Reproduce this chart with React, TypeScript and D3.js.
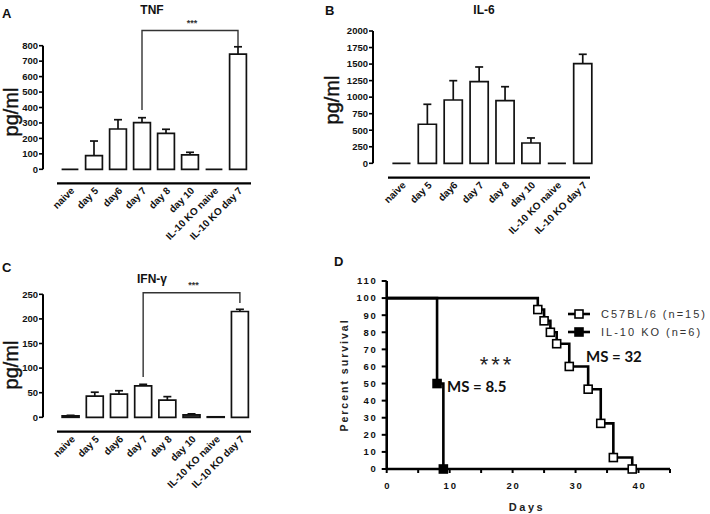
import React from "react";
import * as d3 from "d3";

const categories = ["naive", "day 5", "day6", "day 7", "day 8", "day 10", "IL-10 KO naive", "IL-10 KO day 7"];

const tnfValues = [0, 88, 261, 302, 233, 94, 0, 746];
const tnfErrors = [0, 95, 60, 32, 26, 16, 0, 47];
const tnfTicks = [0, 100, 200, 300, 400, 500, 600, 700, 800];

const il6Values = [0, 590, 957, 1234, 946, 307, 0, 1506];
const il6Errors = [0, 302, 292, 222, 212, 76, 0, 142];
const il6Ticks = [0, 250, 500, 750, 1000, 1250, 1500, 1750, 2000];

const ifnValues = [3, 43, 47, 64, 35, 5, 1, 215];
const ifnErrors = [1, 8, 7, 3, 7, 2, 0, 4.5];
const ifnTicks = [0, 50, 100, 150, 200, 250];

const c57Days = [0, 24, 25, 26, 27, 29, 32, 34, 36, 39];
const c57Surv = [100, 93.3, 86.7, 80, 73.3, 60, 46.7, 26.7, 6.7, 0];
const koDays = [0, 8, 9];
const koSurv = [100, 50, 0];
const survYTicks = [0, 10, 20, 30, 40, 50, 60, 70, 80, 90, 100, 110];
const survXTicks = [0, 10, 20, 30, 40];
const survMinorTicks = [0, 5, 10, 15, 20, 25, 30, 35, 40, 45];

const FONT = "'Liberation Sans', Arial, sans-serif";

type BarProps = {
  values: number[];
  errors: number[];
  ticks: number[];
  ymax: number;
  axisX: number;
  yZero: number;
  yMax: number;
  xRange: [number, number];
  catY: number;
  catRange: [number, number];
  ylabelX: number;
  ylabelY: number;
  bracket?: { top: number; leftBottom: number; rightBottom: number; starY: number };
  darkSmall?: boolean;
};

function BarPanel(p: BarProps) {
  const x = d3.scaleBand<string>().domain(categories).range(p.xRange).paddingInner(0.3).paddingOuter(0.15);
  const y = d3.scaleLinear().domain([0, p.ymax]).range([p.yZero, p.yMax]);
  const bw = x.bandwidth();
  const cx = (c: string) => (x(c) as number) + bw / 2;
  return (
    <g fontFamily={FONT}>
      <line x1={p.axisX} x2={p.axisX} y1={y(0)} y2={y(p.ymax)} stroke="#000" strokeWidth={2} />
      {p.ticks.map((t) => (
        <g key={t}>
          <line x1={p.axisX - 4} x2={p.axisX} y1={y(t)} y2={y(t)} stroke="#000" strokeWidth={1.6} />
          <text x={p.axisX - 5} y={y(t)} dy="0.35em" textAnchor="end" fontSize={9.5} fontWeight="bold" fill="#111">
            {t}
          </text>
        </g>
      ))}
      {categories.map((c, i) => {
        const x0 = x(c) as number;
        const yt = y(p.values[i]);
        const ye = y(p.values[i] + p.errors[i]);
        const small = p.darkSmall && p.values[i] < 6;
        return (
          <g key={c}>
            <path
              d={`M${x0},${y(0)}L${x0},${yt}L${x0 + bw},${yt}L${x0 + bw},${y(0)}Z`}
              fill={small ? "#444" : "#fff"}
              stroke="#111"
              strokeWidth={1.7}
            />
            {p.errors[i] > 0 && (
              <g stroke="#111" strokeWidth={1.7}>
                <line x1={cx(c)} x2={cx(c)} y1={yt} y2={ye} />
                <line x1={cx(c) - 4} x2={cx(c) + 4} y1={ye} y2={ye} />
              </g>
            )}
          </g>
        );
      })}
      <line x1={p.catRange[0]} x2={p.catRange[1]} y1={p.catY} y2={p.catY} stroke="#000" strokeWidth={2.2} />
      {categories.map((c) => (
        <text
          key={c}
          transform={`translate(${cx(c) + 5},${p.catY + 8}) rotate(-45)`}
          textAnchor="end"
          fontSize={10}
          fontWeight="bold"
          fill="#111"
        >
          {c}
        </text>
      ))}
      <text
        transform={`translate(${p.ylabelX},${p.ylabelY}) rotate(-90)`}
        textAnchor="middle"
        fontSize={20}
        fill="#111"
        stroke="#111"
        strokeWidth={0.4}
      >
        pg/ml
      </text>
      {p.bracket && (
        <g>
          <path
            d={`M${cx(categories[3])},${p.bracket.leftBottom}V${p.bracket.top}H${cx(categories[7])}V${p.bracket.rightBottom}`}
            fill="none"
            stroke="#333"
            strokeWidth={1.4}
          />
          <text
            x={(cx(categories[3]) + cx(categories[7])) / 2 + 2}
            y={p.bracket.starY}
            textAnchor="middle"
            fontSize={9}
            fontWeight="bold"
            fill="#333"
          >
            ***
          </text>
        </g>
      )}
    </g>
  );
}

function SurvivalPanel() {
  const x = d3.scaleLinear().domain([0, 45]).range([386.7, 670]);
  const y = d3.scaleLinear().domain([0, 110]).range([469, 281]);
  const mk = (days: number[], surv: number[]) =>
    d3
      .line<number>()
      .x((d) => x(d))
      .y((_, i) => y(surv[i]))
      .curve(d3.curveStepAfter)(days) as string;
  const sq = 8;
  return (
    <g fontFamily={FONT}>
      <path d={mk(koDays, koSurv)} fill="none" stroke="#000" strokeWidth={2.6} />
      <path d={mk(c57Days, c57Surv)} fill="none" stroke="#000" strokeWidth={2.6} />
      <line x1={x(0)} x2={x(45)} y1={y(0)} y2={y(0)} stroke="#000" strokeWidth={2.6} />
      <line x1={x(0)} x2={x(0)} y1={y(0)} y2={y(110)} stroke="#000" strokeWidth={2.6} />
      {survYTicks.map((t) => (
        <g key={t}>
          <line x1={x(0) - 5} x2={x(0)} y1={y(t)} y2={y(t)} stroke="#000" strokeWidth={2} />
          <text x={x(0) - 9} y={y(t)} dy="0.35em" textAnchor="end" fontSize={9.5} fontWeight="bold" letterSpacing={1.8} fill="#111">
            {t}
          </text>
        </g>
      ))}
      {survMinorTicks.map((t) => (
        <line key={t} x1={x(t)} x2={x(t)} y1={y(0)} y2={y(0) + 4} stroke="#000" strokeWidth={2} />
      ))}
      {survXTicks.map((t) => (
        <text key={t} x={x(t) + 1} y={489} textAnchor="middle" fontSize={9.5} fontWeight="bold" letterSpacing={1.8} fill="#111">
          {t}
        </text>
      ))}
      <text x={527} y={511} textAnchor="middle" fontSize={11} fontWeight="bold" letterSpacing={2.5} fill="#222">
        Days
      </text>
      <text
        transform={`translate(348,375) rotate(-90)`}
        textAnchor="middle"
        fontSize={10.5}
        fontWeight="bold"
        letterSpacing={2}
        fill="#222"
      >
        Percent survival
      </text>
      {c57Days.slice(1).map((d, i) => (
        <rect
          key={d}
          x={x(d) - sq / 2}
          y={y(c57Surv[i + 1]) - sq / 2}
          width={sq}
          height={sq}
          fill="#fff"
          stroke="#000"
          strokeWidth={1.6}
        />
      ))}
      {koDays.slice(1).map((d, i) => (
        <rect key={d} x={x(d) - sq / 2} y={y(koSurv[i + 1]) - sq / 2} width={sq} height={sq} fill="#000" stroke="#000" strokeWidth={1.6} />
      ))}
      <g>
        <line x1={568} x2={590} y1={314} y2={314} stroke="#000" strokeWidth={2.6} />
        <rect x={575} y={310} width={8} height={8} fill="#fff" stroke="#000" strokeWidth={1.6} />
        <text x={601} y={314} dy="0.35em" fontSize={11} letterSpacing={2} fill="#333">
          C57BL/6 (n=15)
        </text>
        <line x1={568} x2={590} y1={332} y2={332} stroke="#000" strokeWidth={2.6} />
        <rect x={575} y={328} width={8} height={8} fill="#000" stroke="#000" strokeWidth={1.6} />
        <text x={601} y={332} dy="0.35em" fontSize={11} letterSpacing={2} fill="#333">
          IL-10 KO (n=6)
        </text>
      </g>
      <text x={497} y={372} textAnchor="middle" fontSize={22} letterSpacing={3} fill="#222">
        ***
      </text>
      <text x={586} y={362} fontSize={15} fontWeight="bold" fontFamily="Lato, sans-serif" fill="#111">
        MS = 32
      </text>
      <text x={447} y={392} fontSize={15} fontWeight="bold" fontFamily="Lato, sans-serif" fill="#111">
        MS = 8.5
      </text>
    </g>
  );
}

export default function App() {
  return (
    <svg
      width={710}
      height={514}
      style={{ position: "absolute", left: 0, top: 0, background: "#fff" }}
      fontFamily={FONT}
    >
      <rect width={710} height={514} fill="#fff" />
      <text x={2} y={18} fontSize={13} fontWeight="bold" fill="#111">A</text>
      <text x={152} y={14} textAnchor="middle" fontSize={12} fontWeight="bold" fill="#111">TNF</text>
      <BarPanel
        values={tnfValues}
        errors={tnfErrors}
        ticks={tnfTicks}
        ymax={800}
        axisX={43}
        yZero={169.3}
        yMax={45.7}
        xRange={[58, 250]}
        catY={183.3}
        catRange={[57, 251]}
        ylabelX={18}
        ylabelY={112}
        bracket={{ top: 30.5, leftBottom: 110, rightBottom: 46, starY: 26 }}
      />
      <text x={325} y={15} fontSize={13} fontWeight="bold" fill="#111">B</text>
      <BarPanel
        values={il6Values}
        errors={il6Errors}
        ticks={il6Ticks}
        ymax={2000}
        axisX={373}
        yZero={163.3}
        yMax={31}
        xRange={[388.5, 595.7]}
        catY={177.7}
        catRange={[388, 590]}
        ylabelX={339}
        ylabelY={100}
      />
      <text x={484} y={14} textAnchor="middle" fontSize={12} fontWeight="bold" fill="#111">IL-6</text>
      <text x={2} y={272} fontSize={13} fontWeight="bold" fill="#111">C</text>
      <text x={152} y={283} textAnchor="middle" fontSize={12} fontWeight="bold" fill="#111">IFN-γ</text>
      <BarPanel
        values={ifnValues}
        errors={ifnErrors}
        ticks={ifnTicks}
        ymax={250}
        axisX={43}
        yZero={417.3}
        yMax={294.3}
        xRange={[58.5, 252]}
        catY={431.7}
        catRange={[57, 251]}
        ylabelX={18}
        ylabelY={365}
        bracket={{ top: 292.7, leftBottom: 377, rightBottom: 303, starY: 288 }}
        darkSmall
      />
      <text x={334} y={266} fontSize={13} fontWeight="bold" fill="#111">D</text>
      <SurvivalPanel />
    </svg>
  );
}
